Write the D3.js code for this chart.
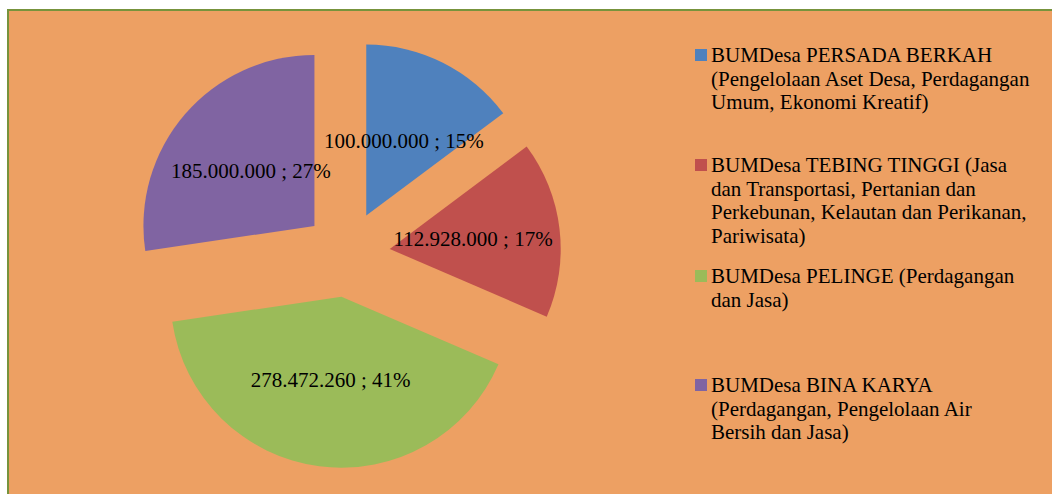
<!DOCTYPE html>
<html>
<head>
<meta charset="utf-8">
<script src="https://cdn.jsdelivr.net/npm/d3@7"></script>
<style>
  body { margin: 0; background: #fff; }
  svg { display: block; }
  text { font-family: "Liberation Serif", "Times New Roman", serif; fill: #000; }
</style>
</head>
<body>
<svg width="1052" height="494"></svg>
<script>
// data
const names = ["BUMDesa PERSADA BERKAH", "BUMDesa TEBING TINGGI", "BUMDesa PELINGE", "BUMDesa BINA KARYA"];
const values = [100000000, 112928000, 278472260, 185000000];
const labels = ["100.000.000 ; 15%", "112.928.000 ; 17%", "278.472.260 ; 41%", "185.000.000 ; 27%"];
const legendLines = [
  ["BUMDesa PERSADA BERKAH", "(Pengelolaan Aset Desa, Perdagangan", "Umum, Ekonomi Kreatif)"],
  ["BUMDesa TEBING TINGGI (Jasa", "dan Transportasi, Pertanian dan", "Perkebunan, Kelautan dan Perikanan,", "Pariwisata)"],
  ["BUMDesa PELINGE (Perdagangan", "dan Jasa)"],
  ["BUMDesa BINA KARYA", "(Perdagangan, Pengelolaan Air", "Bersih dan Jasa)"]
];
const colors = ["#4F81BD", "#C0504D", "#9BBB59", "#8064A2"];

const svg = d3.select("svg");

// chart area (cropped on right and bottom)
svg.append("rect")
  .attr("x", 8).attr("y", 10)
  .attr("width", 1060).attr("height", 500)
  .attr("fill", "#EDA063")
  .attr("stroke", "#77933C")
  .attr("stroke-width", 2);

const cx = 347, cy = 254;
const radius = 171;
const explode = 43;

const pie = d3.pie().sort(null).value((d) => d);
const arcs = pie(values);
const arc = d3.arc().innerRadius(0).outerRadius(radius);
const labelArc = d3.arc().innerRadius(84).outerRadius(84);
const offsetArc = d3.arc().innerRadius(explode).outerRadius(explode);

const g = svg.append("g").attr("transform", `translate(${cx},${cy})`);

const slice = g.selectAll("g.slice")
  .data(arcs)
  .enter()
  .append("g")
  .attr("class", "slice")
  .attr("transform", (d) => {
    const [x, y] = offsetArc.centroid(d);
    return `translate(${x},${y})`;
  });

slice.append("path")
  .attr("d", arc)
  .attr("fill", (d, i) => colors[i]);

slice.append("text")
  .attr("transform", (d) => `translate(${labelArc.centroid(d)})`)
  .attr("text-anchor", "middle")
  .attr("dy", "0.35em")
  .attr("font-size", 21)
  .text((d, i) => labels[i]);

// legend
const legendTop = [55, 165, 276, 385];
const legend = svg.append("g");
legendLines.forEach((lines, i) => {
  const lg = legend.append("g").attr("transform", `translate(695,${legendTop[i]})`);
  lg.append("rect")
    .attr("x", 0).attr("y", -6)
    .attr("width", 12).attr("height", 12)
    .attr("fill", colors[i]);
  lg.selectAll("text")
    .data(lines)
    .enter()
    .append("text")
    .attr("x", 16)
    .attr("y", (d, j) => j * 23.5)
    .attr("dy", "0.35em")
    .attr("font-size", 21)
    .text((d) => d);
});
</script>
</body>
</html>
